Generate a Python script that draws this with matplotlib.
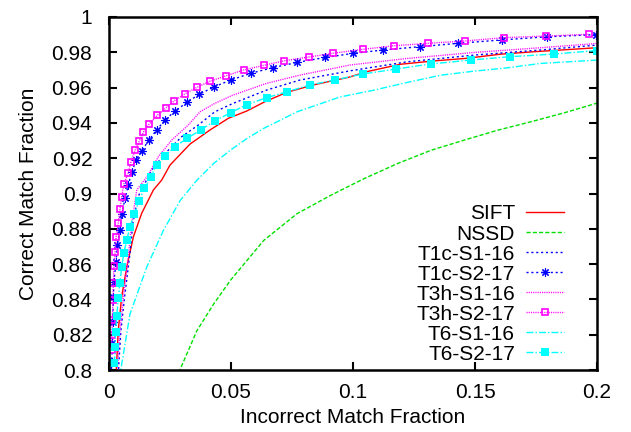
import numpy as np
import matplotlib
matplotlib.use('Agg')
import matplotlib.pyplot as plt

plt.rcParams['font.family'] = ['Liberation Sans', 'DejaVu Sans']
plt.rcParams['font.size'] = 15

# values (x = incorrect fraction, y = correct fraction)
sift_x = [0.0028, 0.0032, 0.0038, 0.0052, 0.0073, 0.0100, 0.0134, 0.0182, 0.0216, 0.0250, 0.0332,
          0.0414, 0.0489, 0.0564, 0.0639, 0.0728, 0.0837, 0.0981, 0.1056, 0.1193, 0.1329, 0.1466,
          0.1602, 0.1739, 0.2000]
sift_y = [0.795, 0.8057, 0.8227, 0.8415, 0.8585, 0.8755, 0.8888, 0.9020, 0.9076, 0.9161, 0.9280,
          0.9360, 0.9426, 0.9467, 0.9520, 0.9573, 0.9615, 0.9658, 0.9690, 0.9732, 0.9751, 0.9766,
          0.9789, 0.9803, 0.9826]

nssd_x = [0.0280, 0.0292, 0.0360, 0.0429, 0.0497, 0.0634, 0.0771, 0.0909, 0.1045, 0.1183, 0.1320,
          0.1457, 0.1594, 0.1731, 0.1868, 0.2000]
nssd_y = [0.795, 0.8005, 0.8222, 0.8374, 0.8507, 0.8734, 0.8886, 0.8990, 0.9084, 0.9170, 0.9245,
          0.9303, 0.9359, 0.9407, 0.9458, 0.9512]

t1c_s1_x = [0.0038, 0.0040, 0.0049, 0.0064, 0.0084, 0.0098, 0.0119, 0.0175, 0.0230, 0.0298, 0.0366,
            0.0434, 0.0509, 0.0646, 0.0783, 0.0988, 0.1221, 0.1495, 0.1769, 0.2000]
t1c_s1_y = [0.795, 0.8030, 0.8227, 0.8415, 0.8640, 0.8833, 0.8982, 0.9133, 0.9227, 0.9322, 0.9388,
            0.9463, 0.9511, 0.9586, 0.9643, 0.9695, 0.9746, 0.9784, 0.9813, 0.9841]

t1c_s2_x = [0.0009, 0.0011, 0.0014, 0.0015, 0.0018, 0.0020, 0.0029, 0.0034, 0.0045, 0.0052, 0.0066,
            0.0079, 0.0093, 0.0111, 0.0134, 0.0164, 0.0195, 0.0230, 0.0270, 0.0321, 0.0369, 0.0432,
            0.0499, 0.0581, 0.0671, 0.0772, 0.0886, 0.1001, 0.1124, 0.1275, 0.1432, 0.1609, 0.1794,
            0.1995]
t1c_s2_y = [0.795, 0.8047, 0.8151, 0.8274, 0.8415, 0.8500, 0.8614, 0.8708, 0.8793, 0.8882, 0.8973,
            0.9048, 0.9120, 0.9190, 0.9242, 0.9303, 0.9360, 0.9416, 0.9467, 0.9517, 0.9562, 0.9605,
            0.9643, 0.9681, 0.9713, 0.9743, 0.9771, 0.9794, 0.9813, 0.9832, 0.9851, 0.9870, 0.9888,
            0.9900]

t3h_s1_x = [0.0034, 0.0036, 0.0045, 0.0059, 0.0079, 0.0093, 0.0114, 0.0161, 0.0202, 0.0257, 0.0325,
            0.0373, 0.0434, 0.0509, 0.0646, 0.0783, 0.0988, 0.1221, 0.1495, 0.1769, 0.2000]
t3h_s1_y = [0.795, 0.8040, 0.8227, 0.8415, 0.8642, 0.8833, 0.9020, 0.9105, 0.9208, 0.9303, 0.9388,
            0.9463, 0.9511, 0.9558, 0.9624, 0.9671, 0.9728, 0.9765, 0.9799, 0.9826, 0.9850]

t3h_s2_x = [0.0011, 0.0012, 0.0014, 0.0016, 0.0018, 0.0020, 0.0025, 0.0029, 0.0038, 0.0045, 0.0052,
            0.0061, 0.0078, 0.0090, 0.0107, 0.0124, 0.0141, 0.0165, 0.0198, 0.0232, 0.0268, 0.0311,
            0.0361, 0.0414, 0.0480, 0.0552, 0.0634, 0.0718, 0.0818, 0.0920, 0.1042, 0.1168, 0.1309,
            0.1459, 0.1619, 0.1790, 0.1969]
t3h_s2_y = [0.8113, 0.8198, 0.8283, 0.8396, 0.8495, 0.8589, 0.8670, 0.8752, 0.8831, 0.8910, 0.8982,
            0.9054, 0.9114, 0.9180, 0.9245, 0.9296, 0.9347, 0.9394, 0.9443, 0.9483, 0.9526, 0.9564,
            0.9602, 0.9636, 0.9667, 0.9700, 0.9726, 0.9752, 0.9773, 0.9795, 0.9817, 0.9837, 0.9851,
            0.9864, 0.9883, 0.9892, 0.9902]

t6_s1_x = [0.0047, 0.0049, 0.0086, 0.0155, 0.0223, 0.0292, 0.0360, 0.0429, 0.0497, 0.0566, 0.0634,
           0.0703, 0.0771, 0.0947, 0.1084, 0.1221, 0.1358, 0.1495, 0.1632, 0.1769, 0.2000]
t6_s1_y = [0.795, 0.8006, 0.8317, 0.8584, 0.8791, 0.8961, 0.9075, 0.9170, 0.9245, 0.9312, 0.9369,
           0.9416, 0.9463, 0.9547, 0.9585, 0.9629, 0.9670, 0.9693, 0.9712, 0.9737, 0.9756]

t6_s2_x = [0.0022, 0.0025, 0.0027, 0.0032, 0.0038, 0.0045, 0.0052, 0.0061, 0.0073, 0.0086, 0.0104,
           0.0123, 0.0145, 0.0171, 0.0195, 0.0230, 0.0270, 0.0321, 0.0376, 0.0434, 0.0499, 0.0564,
           0.0646, 0.0731, 0.0824, 0.0925, 0.1040, 0.1176, 0.1318, 0.1482, 0.1643, 0.1824, 0.2000]
t6_s2_y = [0.8038, 0.8132, 0.8217, 0.8306, 0.8406, 0.8495, 0.8585, 0.8665, 0.8737, 0.8812, 0.8884,
           0.8959, 0.9029, 0.9095, 0.9163, 0.9212, 0.9265, 0.9313, 0.9360, 0.9412, 0.9458, 0.9503,
           0.9543, 0.9577, 0.9615, 0.9643, 0.9677, 0.9705, 0.9734, 0.9756, 0.9775, 0.9790, 0.9810]

x_ticks = [0, 0.05, 0.1, 0.15, 0.2]
x_labels = ['0', '0.05', '0.1', '0.15', '0.2']
y_ticks = [0.8, 0.82, 0.84, 0.86, 0.88, 0.9, 0.92, 0.94, 0.96, 0.98, 1.0]
y_labels = ['0.8', '0.82', '0.84', '0.86', '0.88', '0.9', '0.92', '0.94', '0.96', '0.98', '1']

fig = plt.figure(figsize=(6.31, 4.32), dpi=100)
ax = fig.add_axes([109/631, 62/432, 488/631, 353/432])

lw = 1.0
ax.plot(sift_x, sift_y, color='#ff0000', lw=lw, label='SIFT')
ax.plot(nssd_x, nssd_y, color='#00e000', lw=lw, dashes=(3, 1.5), label='NSSD')
ax.plot(t1c_s1_x, t1c_s1_y, color='#0000ff', lw=lw, dashes=(1.5, 2), label='T1c-S1-16')
ax.plot(t1c_s2_x, t1c_s2_y, color='#0000ff', lw=lw, dashes=(1.5, 2),
        marker=(8, 2, 0), ms=6, mew=0.8, label='T1c-S2-17')
ax.plot(t3h_s1_x, t3h_s1_y, color='#ff00ff', lw=lw, dashes=(0.8, 0.8), label='T3h-S1-16')
ax.plot(t3h_s2_x, t3h_s2_y, color='#ff00ff', lw=lw, dashes=(0.8, 0.8),
        marker='s', ms=5, mfc='none', mew=1.2, label='T3h-S2-17')
ax.plot(t6_s1_x, t6_s1_y, color='#00ffff', lw=lw, dashes=(5, 1.5, 1, 1.5), label='T6-S1-16')
ax.plot(t6_s2_x, t6_s2_y, color='#00ffff', lw=lw, dashes=(5, 1.5, 1, 1.5),
        marker='s', ms=5.5, mew=0, label='T6-S2-17')

ax.set_xlim(0, 0.2)
ax.set_ylim(0.8, 1.0)
ax.set_xticks(x_ticks)
ax.set_xticklabels(x_labels)
ax.set_yticks(y_ticks)
ax.set_yticklabels(y_labels)
ax.tick_params(direction='in', top=True, right=True, length=6, width=1.5)
ax.tick_params(axis='x', pad=9)
ax.tick_params(axis='y', pad=12)
for s in ax.spines.values():
    s.set_linewidth(1.8)

ax.set_xlabel('Incorrect Match Fraction', labelpad=5)
ax.set_ylabel('Correct Match Fraction', labelpad=10)

ax.legend(loc='lower right', bbox_to_anchor=(0.945, 0.0), markerfirst=False, frameon=False,
          numpoints=1, handlelength=1.8, handletextpad=0.55, labelspacing=0.05,
          borderaxespad=0.0, borderpad=0.3)

fig.savefig('out.png', dpi=100)
